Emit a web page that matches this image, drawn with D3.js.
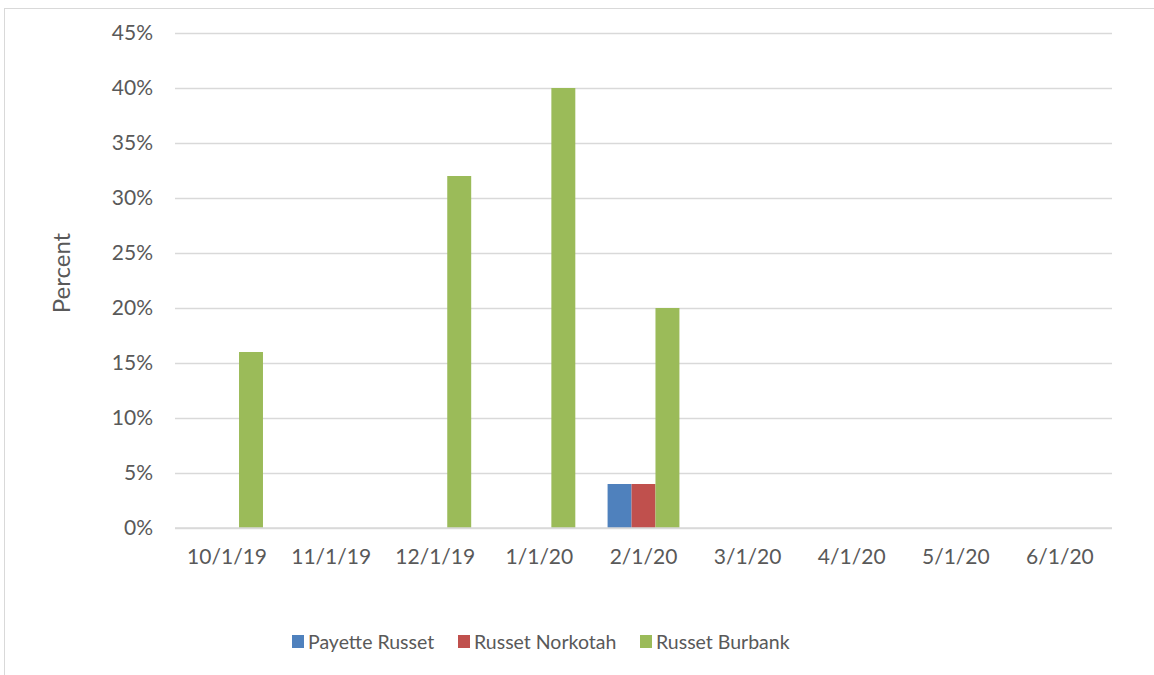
<!DOCTYPE html>
<html><head><meta charset="utf-8">
<script src="https://cdn.jsdelivr.net/npm/d3@7"></script>
<style>body{margin:0;background:#fff}svg{display:block}text{font-family:Lato,"Open Sans",sans-serif;fill:#595959}</style>
</head><body>
<svg id="c" width="1154" height="675"></svg>
<script>
const categories = ["10/1/19","11/1/19","12/1/19","1/1/20","2/1/20","3/1/20","4/1/20","5/1/20","6/1/20"];
const seriesNames = ["Payette Russet","Russet Norkotah","Russet Burbank"];
const payette = [0,0,0,0,0.04,0,0,0,0];
const norkotah = [0,0,0,0,0.04,0,0,0,0];
const burbank = [0.16,0,0.32,0.40,0.20,0,0,0,0];
const colors = ["#4f81bd","#c0504d","#9bbb59"];
const yTicks = [0,0.05,0.10,0.15,0.20,0.25,0.30,0.35,0.40,0.45];

const svg = d3.select("#c");
svg.append("rect").attr("x",4.5).attr("y",8.5).attr("width",1160).attr("height",700)
  .attr("fill","#fff").attr("stroke","#d9d9d9").attr("stroke-width",1);

const m = {l:175,r:1112,t:33,b:528};
const x = d3.scaleBand().domain(categories).range([m.l,m.r]).paddingInner(0.31).paddingOuter(0.155);
const y = d3.scaleLinear().domain([0,0.45]).range([m.b,m.t]);
const xs = d3.scaleBand().domain(seriesNames).range([0,x.bandwidth()]);

const g = svg.append("g");
const yAxis = d3.axisLeft(y).tickValues(yTicks).tickSize(-(m.r-m.l)).tickPadding(22).tickFormat(d3.format(".0%"));
const ya = g.append("g").attr("transform",`translate(${m.l},0)`).call(yAxis);
ya.select(".domain").remove();
ya.selectAll(".tick line").attr("stroke","#d9d9d9").attr("stroke-width",1.3);
ya.selectAll(".tick text").attr("font-size",21).style("fill","#595959");

const data = [payette,norkotah,burbank];
data.forEach((vals,si)=>{
  g.append("g").selectAll("rect").data(vals.map((v,i)=>({v,c:categories[i]})).filter(d=>d.v>0))
   .join("rect")
   .attr("x",d=>x(d.c)+xs(seriesNames[si]))
   .attr("width",xs.bandwidth())
   .attr("y",d=>y(d.v)).attr("height",d=>y(0)-y(d.v))
   .attr("fill",colors[si]);
});

const xAxis = d3.axisBottom(x).tickSize(0).tickPadding(21);
const xa = g.append("g").attr("transform",`translate(0,${m.b})`).call(xAxis);
xa.select(".domain").attr("stroke","#d9d9d9").attr("stroke-width",1.3).attr("d",`M${m.l},0H${m.r}`);
xa.selectAll(".tick text").attr("font-size",21).style("fill","#595959");

svg.append("text").attr("transform","translate(70,273) rotate(-90)").attr("text-anchor","middle")
  .attr("font-size",24).text("Percent");

const legX = [292,458,640];
const lg = svg.append("g");
seriesNames.forEach((n,i)=>{
  lg.append("rect").attr("x",legX[i]).attr("y",635).attr("width",12).attr("height",13).attr("fill",colors[i]);
  lg.append("text").attr("x",legX[i]+16).attr("y",649).attr("font-size",19.5).text(n);
});
</script>
</body></html>
